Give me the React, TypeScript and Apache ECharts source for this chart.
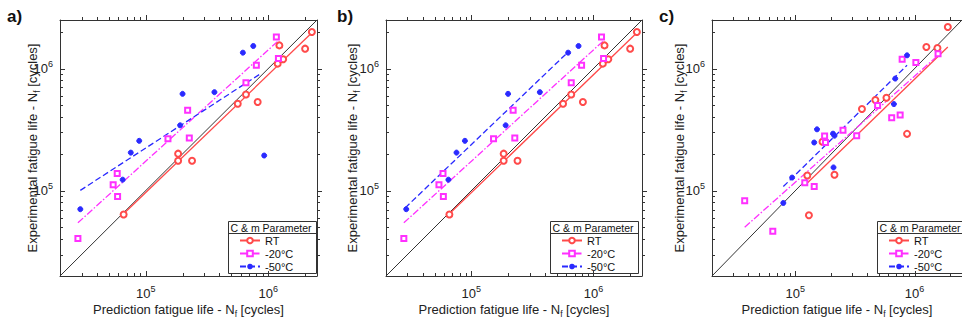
import React, { useEffect, useRef } from 'react';
import * as echarts from 'echarts';

const FONT = "'Liberation Sans', Arial, Helvetica, sans-serif";
const AXIS_MIN = 20000;
const AXIS_MAX = 2500000;
const majorTicks = [1e5, 1e6];
const minorTicks = [3e4, 4e4, 5e4, 6e4, 7e4, 8e4, 9e4, 2e5, 3e5, 4e5, 5e5, 6e5, 7e5, 8e5, 9e5, 2e6];
const seriesNames = ['RT', '-20°C', '-50°C'];
const panelLabels = ['a)', 'b)', 'c)'];
const legendTitle = 'C & m Parameter';
const xTitle = 'Prediction fatigue life - N{s|f} [cycles]';
const yTitle = 'Experimental fatigue life - N{s|f} [cycles]';

const aRT: number[][] = [
  [66100, 63700], [184000, 201000], [184000, 176000], [239000, 176000], [564000, 515000], [658000, 614000],
  [820000, 532000], [1194000, 1098000], [1233000, 1549000], [1324000, 1191000], [2000000, 1456000], [2270000, 1992000],
];
const aM20: number[][] = [
  [28000, 40600], [54300, 112000], [58600, 138000], [59000, 89400], [152000, 266000], [220000, 455000],
  [227000, 270000], [658000, 764000], [800000, 1065000], [1165000, 1811000], [1211000, 1207000],
];
const aM50: number[][] = [
  [29300, 70500], [64900, 123000], [75600, 205000], [88600, 256000], [191000, 343000], [200000, 621000],
  [364000, 641000], [621000, 1350000], [755000, 1531000], [927000, 194000],
];
const aFitRT: number[][] = [[66100, 64600], [2270000, 1963000]];
const aFitM20: number[][] = [[28000, 54500], [1194000, 1671000]];
const aFitM50: number[][] = [[29300, 100600], [869000, 910000]];

const bRT: number[][] = aRT;
const bM20: number[][] = aM20;
const bM50: number[][] = [
  [29300, 70500], [64900, 123000], [75600, 205000], [88600, 256000], [191000, 343000], [200000, 621000],
  [364000, 641000], [621000, 1350000], [755000, 1531000],
];
const bFitRT: number[][] = [[66100, 64600], [2270000, 1963000]];
const bFitM20: number[][] = [[28000, 54500], [1194000, 1671000]];
const bFitM50: number[][] = [[28700, 72300], [621000, 1367000]];

const cRT: number[][] = [
  [126000, 133000], [130000, 62900], [169000, 252000], [213000, 135000], [362000, 466000], [469000, 552000],
  [581000, 576000], [865000, 292000], [1256000, 1502000], [1556000, 1473000], [1901000, 2188000],
];
const cM20: number[][] = [
  [37600, 82800], [64700, 46600], [120000, 116000], [144000, 108000], [176000, 281000], [179000, 248000],
  [251000, 313000], [327000, 282000], [490000, 499000], [643000, 396000], [757000, 417000], [787000, 1191000],
  [1026000, 1119000], [1574000, 1325000],
];
const cM50: number[][] = [
  [79300, 79300], [94000, 128000], [144000, 248000], [152000, 318000], [207000, 293000], [213000, 282000],
  [209000, 155000], [689000, 828000], [671000, 512000], [865000, 1284000],
];
const cFitRT: number[][] = [[126000, 115500], [1901000, 1500000]];
const cFitM20: number[][] = [[37600, 50200], [1574000, 1284000]];
const cFitM50: number[][] = [[79300, 108000], [865000, 1065000]];

const diagonal: number[][] = [[AXIS_MIN, AXIS_MIN], [AXIS_MAX, AXIS_MAX]];

const panelData = [
  { pts: [aRT, aM20, aM50], fits: [aFitRT, aFitM20, aFitM50] },
  { pts: [bRT, bM20, bM50], fits: [bFitRT, bFitM20, bFitM50] },
  { pts: [cRT, cM20, cM50], fits: [cFitRT, cFitM20, cFitM50] },
];

const layout = [
  { left: 60, top: 20, width: 257, height: 258, labelX: 7, yGap: 19, legendLeft: 228 },
  { left: 386, top: 20, width: 256, height: 258, labelX: 337, yGap: 25, legendLeft: 550 },
  { left: 712, top: 20, width: 257, height: 258, labelX: 659, yGap: 24, legendLeft: 877 },
];

const COLORS = ['#ff4a4a', '#ff30ff', '#2a2aff'];
const SYMBOLS = ['emptyCircle', 'emptyRect', 'circle'];
const SIZES = [6, 5, 5];
const DASHES: any[] = ['solid', [7, 2, 1.5, 2], [6, 3]];
const AX = '#333';
const MAJOR_LEN = 5;
const MINOR_LEN = 3;

const powLabel = (v: number) => '{a|10}{b|' + Math.round(Math.log10(v)) + '}';
const labelRich = {
  a: { fontSize: 13, fontFamily: FONT, color: '#222', lineHeight: 18 },
  b: { fontSize: 9, fontFamily: FONT, color: '#222', lineHeight: 9, verticalAlign: 'top' },
};
const nameStyle = {
  fontSize: 13,
  fontFamily: FONT,
  color: '#222',
  lineHeight: 17,
  rich: { s: { fontSize: 8.5, fontFamily: FONT, color: '#222', lineHeight: 8, verticalAlign: 'bottom' } },
};

function makeAxes(dim: 'x' | 'y', gi: number, gap: number) {
  const p1 = dim === 'x' ? 'bottom' : 'left';
  const p2 = dim === 'x' ? 'top' : 'right';
  const line = { show: true, onZero: false, lineStyle: { color: AX, width: 1 } };
  const base: any = {
    type: 'log',
    logBase: 10,
    gridIndex: gi,
    min: AXIS_MIN,
    max: AXIS_MAX,
    splitLine: { show: false },
    minorTick: { show: false },
    axisTick: { show: false },
    axisLine: line,
  };
  return [
    {
      ...base,
      position: p1,
      axisLabel: { show: true, customValues: majorTicks, formatter: powLabel, rich: labelRich, margin: dim === 'x' ? 8 : 7 },
      name: dim === 'x' ? xTitle : yTitle,
      nameLocation: 'middle',
      nameGap: gap,
      nameMoveOverlap: false,
      nameTextStyle: nameStyle,
    },
    { ...base, position: p2, axisLabel: { show: false } },
  ];
}

// tick marks placed through the axes' scales; top/right outward, bottom/left inward
function tickRender(dim: 'x' | 'y') {
  return (params: any, api: any) => {
    const cs = params.coordSys;
    const v = api.value(dim === 'x' ? 0 : 1);
    const len = api.value(2) ? MAJOR_LEN : MINOR_LEN;
    if (dim === 'x') {
      const x = Math.round(api.coord([v, AXIS_MIN])[0]) + 0.5;
      const yb = cs.y + cs.height;
      const yt = cs.y;
      return {
        type: 'group',
        children: [
          { type: 'line', shape: { x1: x, y1: yt, x2: x, y2: yt - len }, style: { stroke: AX, lineWidth: 1 } },
          { type: 'line', shape: { x1: x, y1: yb, x2: x, y2: yb - len }, style: { stroke: AX, lineWidth: 1 } },
        ],
      };
    }
    const y = Math.round(api.coord([AXIS_MIN, v])[1]) + 0.5;
    const xl = cs.x;
    const xr = cs.x + cs.width;
    return {
      type: 'group',
      children: [
        { type: 'line', shape: { x1: xr, y1: y, x2: xr + len, y2: y }, style: { stroke: AX, lineWidth: 1 } },
        { type: 'line', shape: { x1: xl, y1: y, x2: xl + len, y2: y }, style: { stroke: AX, lineWidth: 1 } },
      ],
    };
  };
}

const tickValues = [...majorTicks.map((v) => [v, 1]), ...minorTicks.map((v) => [v, 0])];

function buildOption() {
  const grid: any[] = [];
  const xAxis: any[] = [];
  const yAxis: any[] = [];
  const series: any[] = [];
  const legend: any[] = [];
  const graphic: any[] = [];

  layout.forEach((L, gi) => {
    grid.push({ left: L.left, top: L.top, width: L.width, height: L.height, containLabel: false });
    xAxis.push(...makeAxes('x', gi, 25));
    yAxis.push(...makeAxes('y', gi, L.yGap));
    const xi = gi * 2;
    const yi = gi * 2;
    const D = panelData[gi];

    series.push({
      type: 'line',
      name: 'y = x',
      xAxisIndex: xi,
      yAxisIndex: yi,
      data: diagonal,
      symbol: 'none',
      lineStyle: { color: '#333', width: 1 },
      silent: true,
      z: 1,
    });
    seriesNames.forEach((nm, k) => {
      series.push({
        type: 'line',
        name: nm,
        xAxisIndex: xi,
        yAxisIndex: yi,
        data: D.fits[k],
        symbol: SYMBOLS[k],
        showSymbol: false,
        lineStyle: { color: COLORS[k], width: 1.3, type: DASHES[k] },
        itemStyle: { color: COLORS[k] },
        silent: true,
        z: 2,
      });
    });
    seriesNames.forEach((nm, k) => {
      series.push({
        type: 'scatter',
        name: nm,
        xAxisIndex: xi,
        yAxisIndex: yi,
        data: D.pts[k],
        symbol: SYMBOLS[k],
        symbolSize: SIZES[k],
        itemStyle: { color: COLORS[k], borderColor: COLORS[k], borderWidth: 1, opacity: 1 },
        z: 3,
      });
    });
    series.push(
      {
        type: 'custom',
        name: 'x ticks',
        xAxisIndex: xi,
        yAxisIndex: yi,
        clip: false,
        silent: true,
        data: tickValues.map(([v, m]) => [v, AXIS_MIN, m]),
        renderItem: tickRender('x'),
        z: 5,
      },
      {
        type: 'custom',
        name: 'y ticks',
        xAxisIndex: xi,
        yAxisIndex: yi,
        clip: false,
        silent: true,
        data: tickValues.map(([v, m]) => [AXIS_MIN, v, m]),
        renderItem: tickRender('y'),
        z: 5,
      }
    );

    legend.push({
      orient: 'vertical',
      left: L.legendLeft + 11,
      top: 234,
      itemWidth: 20,
      itemHeight: 7,
      itemGap: 0,
      padding: 0,
      selectedMode: false,
      data: seriesNames,
      textStyle: { fontSize: 11, fontFamily: FONT, color: '#111', lineHeight: 13 },
      z: 6,
    });

    graphic.push(
      {
        type: 'rect',
        left: L.legendLeft,
        top: 221,
        z: 4,
        shape: { width: 88, height: 52 },
        style: { fill: '#fff', stroke: '#333', lineWidth: 1 },
      },
      {
        type: 'line',
        z: 5,
        shape: { x1: L.legendLeft, y1: 233.5, x2: L.legendLeft + 88, y2: 233.5 },
        style: { stroke: '#333', lineWidth: 1 },
      },
      {
        type: 'text',
        left: L.legendLeft + 2.5,
        top: 222,
        z: 5,
        style: { text: legendTitle, fontSize: 10.5, fontFamily: FONT, fill: '#111' },
      },
      {
        type: 'text',
        left: L.labelX,
        top: 8,
        z: 5,
        style: { text: panelLabels[gi], fontSize: 17, fontWeight: 'bold', fontFamily: FONT, fill: '#111' },
      }
    );
  });

  return {
    animation: false,
    backgroundColor: '#fff',
    textStyle: { fontFamily: FONT },
    grid,
    xAxis,
    yAxis,
    series,
    legend,
    graphic,
  };
}

export default function App() {
  const ref = useRef<HTMLDivElement>(null);
  useEffect(() => {
    if (!ref.current) return;
    const chart = echarts.init(ref.current, undefined, { renderer: 'svg' });
    chart.setOption(buildOption() as any);
    return () => chart.dispose();
  }, []);
  return (
    <div
      ref={ref}
      style={{ position: 'fixed', left: 0, top: 0, width: 962, height: 323, background: '#fff' }}
    />
  );
}
